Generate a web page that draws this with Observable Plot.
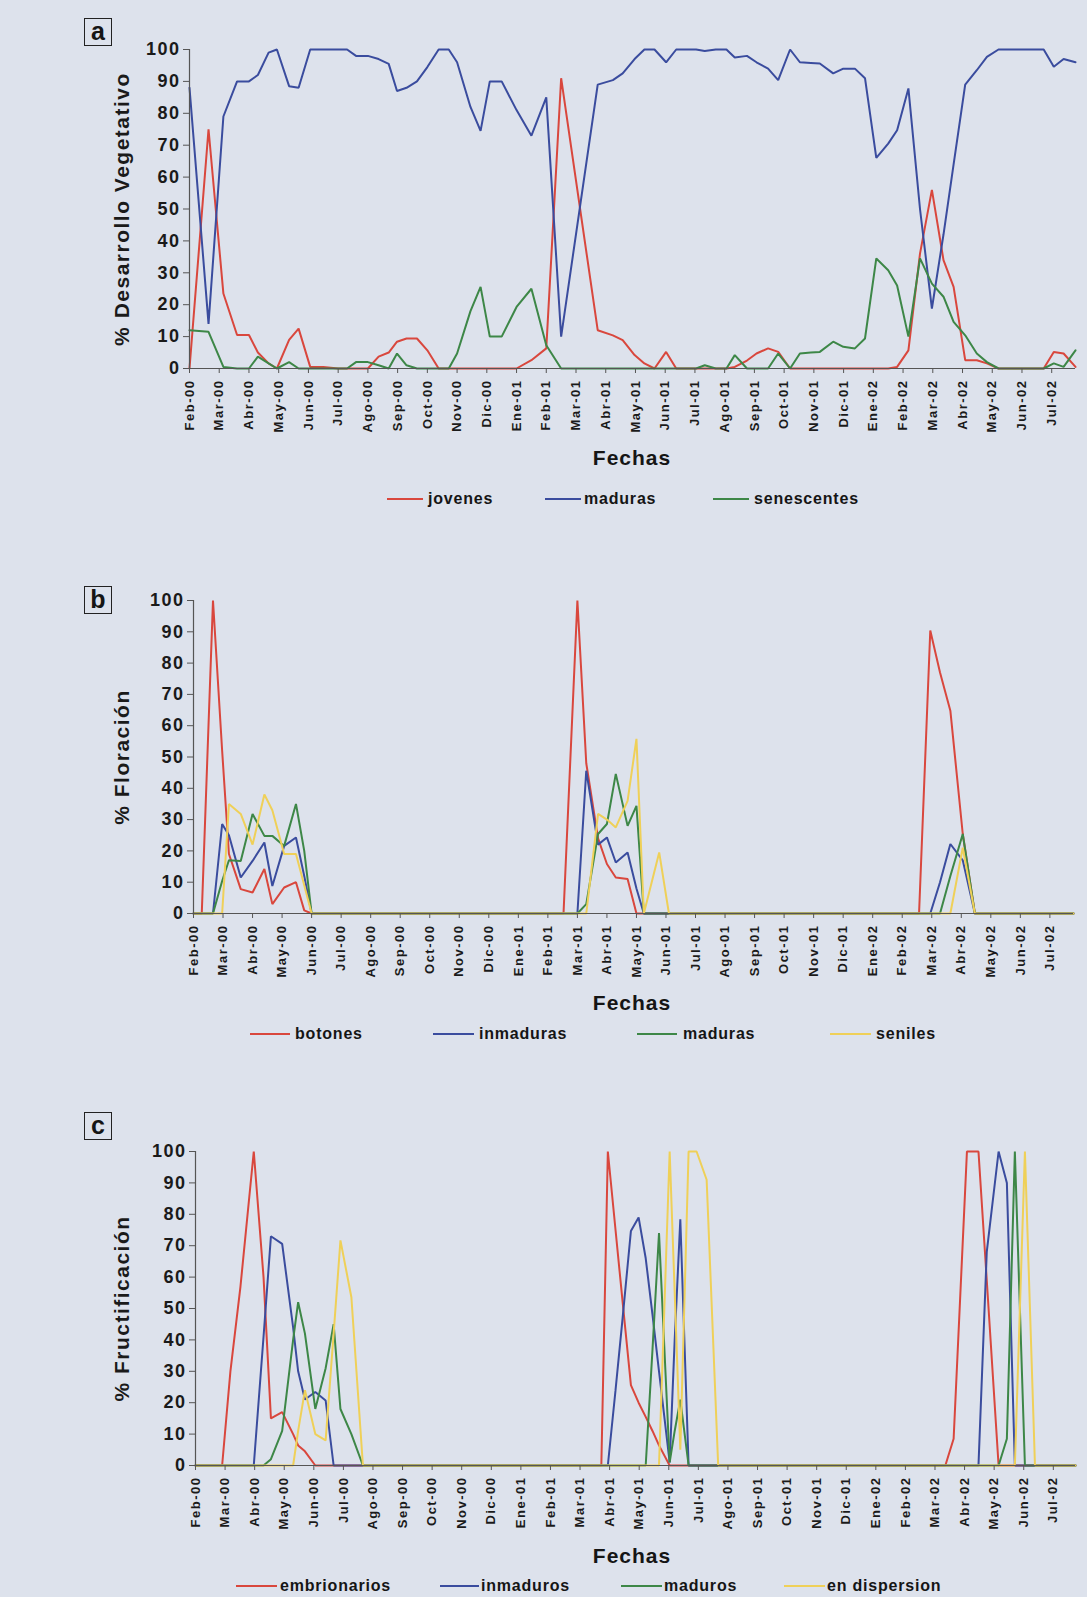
<!DOCTYPE html>
<html>
<head>
<meta charset="utf-8">
<script src="https://cdn.jsdelivr.net/npm/d3@7"></script>
<script src="https://cdn.jsdelivr.net/npm/@observablehq/plot@0.6"></script>
<style>
  html, body { margin: 0; padding: 0; background: #dde2ec; }
  #page { position: relative; width: 1087px; height: 1597px; background: #dde2ec; overflow: hidden;
          font-family: "Liberation Sans", Arial, sans-serif; font-weight: bold; color: #151515; }
  .panel { position: absolute; left: 0; }
  .box { position: absolute; left: 84px; width: 26px; height: 26px; border: 1.5px solid #222;
         font-size: 25px; line-height: 24px; text-align: center; }
  .xtitle { position: absolute; font-size: 21px; letter-spacing: 1px; transform: translate(-50%, -50%); }
  .leg { position: absolute; font-size: 16px; letter-spacing: 0.8px; transform: translateY(-50%); white-space: nowrap; }
  .legline { position: absolute; height: 2px; }
</style>
</head>
<body>
<div id="page"></div>
<script>
// ---------- data ----------
const meses = ["Feb-00","Mar-00","Abr-00","May-00","Jun-00","Jul-00","Ago-00","Sep-00","Oct-00","Nov-00","Dic-00",
  "Ene-01","Feb-01","Mar-01","Abr-01","May-01","Jun-01","Jul-01","Ago-01","Sep-01","Oct-01","Nov-01","Dic-01",
  "Ene-02","Feb-02","Mar-02","Abr-02","May-02","Jun-02","Jul-02"];

// panel a: sampling dates (months after Feb-00)
const fechasA = [0,0.64,1.14,1.6,2.0, 2.3,2.66,2.94,3.35,3.67, 4.06,4.5,5.0,5.3,5.6, 6.0,6.36,6.7,6.98,7.3,
  7.65,8.0,8.38,8.72,9.0, 9.45,9.79,10.1,10.5,11.0, 11.5,12.0,12.5,13.73,14.24, 14.57,14.97,15.3,15.64,16.03,
  16.37,16.7,17.04,17.33,17.7, 18.06,18.34,18.75,19.07,19.46, 19.8,20.2,20.53,20.9,21.2, 21.65,21.99,22.38,22.72,23.1,
  23.5,23.8,24.18,24.57,24.97, 25.36,25.7,26.09,26.48,26.82, 27.21,27.6,28.0,28.4,28.73, 29.07,29.4,29.8];
const jovenes = [0,75,23.5,10.5,10.5, 5,1.6,0,9,12.5, 0.5,0.5,0,0,0, 0,3.7,5,8.4,9.4,
  9.4,5.7,0,0,0, 0,0,0,0,0, 2.6,6.3,91,12,10.4, 8.9,4.2,1.6,0,5.2,
  0,0,0,0,0, 0,0.5,2.5,4.7,6.3, 5.2,0,0,0,0, 0,0,0,0,0,
  0,0.5,5.7,36,56, 34,25.6,2.6,2.6,1.6, 0,0,0,0,0, 5.2,4.7,0.5];
const madurasA = [88,14,79,90,90, 92,99,100,88.5,88, 100,100,100,100,98, 98,97,95.5,87,88,
  90,94.5,100,100,96, 82,74.5,90,90,81, 73,85,10,89,90.4, 92.5,97,100,100,96,
  100,100,100,99.5,100, 100,97.5,98,96,94, 90.4,100,96,95.8,95.6, 92.5,94,94,91,66,
  70.5,74.7,87.8,50,18.8, 42,64,89,93.5,97.7, 100,100,100,100,100, 94.6,97,96];
const senescentes = [12,11.5,0.5,0,0, 3.7,1.6,0,2,0, 0,0,0,0,2, 2,1,0,4.7,1,
  0,0,0,0,4.7, 18,25.6,10,10,19.3, 25,7.3,0,0,0, 0,0,0,0,0,
  0,0,0,1,0, 0,4.2,0,0,0, 4.7,0,4.7,5,5.2, 8.4,6.8,6.3,9.4,34.5,
  30.8,26,10,34.5,26.6, 22.5,14.6,10.4,4.7,2, 0,0,0,0,0, 1.6,0.5,5.7];

// panel b
const fechasB = [0,0.28,0.66,0.97,1.2, 1.6,2.0,2.4,2.67,3.07, 3.47,3.75,4.0,8.0,12.53, 13.0,13.3,13.7,14.0,14.3,
  14.7,15.0,15.25,15.77,16.1, 20.0,24.57,24.95,25.28,25.63, 26.05,26.46,29.8];
const botones = [0,0,100,52,19, 7.8,6.7,14.2,3,8.3, 10,1,0,0,0, 100,48,24,15.8,11.5, 11,0,0,0,0, 0,0,90.4,77,64.8, 25.4,0,0];
const inmaduras = [0,0,0,28.6,25, 11.5,16.8,22.7,8.8,21.6, 24.3,12,0,0,0, 0,45.6,22,24.3,16.3, 19.5,8,0,0,0, 0,0,0,10,22.2, 17,0,0];
const madurasB = [0,0,0,10.4,17, 16.8,31.8,24.8,24.8,21.6, 35,20,0,0,0, 0,3,25.4,28.6,44.6, 28,34.4,0,0,0, 0,0,0,0,12, 25.4,0,0];
const seniles = [0,0,0,0,35, 31.8,22,38,33,19, 19,9,0,0,0, 0,0,31.8,30,27.5, 36,55.8,0,19.5,0, 0,0,0,0,0, 21,0,0];

// panel c
const fechasC = [0,0.9,1.18,1.52,1.97, 2.3,2.55,2.93,3.3,3.47, 3.7,4.05,4.4,4.67,4.9, 5.27,5.66,9.0,13.72,13.94,
  14.2,14.44,14.72,14.98,15.22, 15.45,15.67,16.03,16.2,16.39, 16.67,16.94,17.28,17.67,21.0, 25.35,25.63,26.08,26.47,26.75,
  27.15,27.43,27.7,28.04,28.38, 29.75];
const embrionarios = [0,0,30,57,100, 60,15,17,10,6.4, 4.5,0,0,0,0, 0,0,0,0,100,
  75,52,25.6,20,15.5, 11,6.4,0,0,0, 0,0,0,0,0, 0,8.5,100,100,59, 0,0,0,0,0, 0];
const inmaduros = [0,0,0,0,0, 41,73,70.6,44,30, 21,23.4,20.7,0,0, 0,0,0,0,0,
  24,47,74.7,79,66, 48,30,1,40,78.4, 0,0,0,0,0, 0,0,0,0,68, 100,90,0,0,0, 0];
const maduros = [0,0,0,0,0, 0,2,11,40,52, 42,18,31,45,18, 10,0,0,0,0,
  0,0,0,0,0, 37,74,1,11,21, 0,0,0,0,0, 0,0,0,0,0, 0,8.5,100,0,0, 0];
const enDispersion = [0,0,0,0,0, 0,0,0,0,11, 24,10,8,42,71.7, 53.6,0,0,0,0,
  0,0,0,0,0, 0,0,100,55,5, 100,100,91,0,0, 0,0,0,0,0, 0,0,0,100,0, 0];

const colores = ["#d9473d", "#3a4c9e", "#3d8747", "#efd058"];
const FONT = '"Liberation Sans", Arial, Helvetica, sans-serif';

// ---------- drawing ----------
const page = document.getElementById("page");

function panel({fechas, series, nombres, etiquetaY, top, height, mt, mb, ml, mr, xmax}) {
  const rows = series.flatMap((vals, k) => fechas.map((m, i) => ({m, v: vals[i], serie: nombres[k]})));
  const chart = Plot.plot({
    width: 1087, height,
    marginTop: mt, marginBottom: mb, marginLeft: ml, marginRight: mr,
    style: {background: "transparent", fontFamily: FONT, fontWeight: "bold", fontSize: "18px", color: "#1a1a1a", letterSpacing: "1.5px", overflow: "visible"},
    x: {domain: [0, xmax]},
    y: {domain: [0, 100]},
    color: {domain: nombres, range: colores},
    marks: [
      Plot.line(rows, {x: "m", y: "v", z: "serie", stroke: "serie", strokeWidth: 2, strokeLinejoin: "miter"}),
      Plot.ruleX([0], {stroke: "#555", strokeWidth: 1.2}),
      Plot.ruleY([0], {stroke: "#555", strokeWidth: 1.2}),
      Plot.axisY({ticks: d3.range(0, 101, 10), tickSize: 6, tickPadding: 3, label: null, stroke: "#555"}),
      Plot.axisX({ticks: d3.range(30), tickFormat: i => meses[i], tickRotate: -90, tickSize: 5, tickPadding: 6,
                  fontSize: 13, label: null, stroke: "#555"}),
      Plot.text([etiquetaY], {frameAnchor: "left", rotate: -90, textAnchor: "middle", dx: 122 - ml, fontSize: 21})
    ]
  });
  chart.classList.add("panel");
  chart.style.top = top + "px";
  page.appendChild(chart);
}

function html(tag, cls, text, css) {
  const el = document.createElement(tag);
  el.className = cls;
  if (text != null) el.textContent = text;
  Object.assign(el.style, css);
  page.appendChild(el);
  return el;
}

function leyenda(items, y) {
  items.forEach(([nombre, color, x0, x1, xt]) => {
    html("div", "legline", null, {left: x0 + "px", width: (x1 - x0) + "px", top: (y - 1) + "px", background: color});
    html("div", "leg", nombre, {left: xt + "px", top: y + "px"});
  });
}

// panel a
panel({fechas: fechasA, series: [jovenes, madurasA, senescentes], nombres: ["jovenes", "maduras", "senescentes"],
  etiquetaY: "% Desarrollo Vegetativo", top: 0, height: 440, mt: 49, mb: 72, ml: 189, mr: 12, xmax: 29.8});
html("div", "box", "a", {top: "18px"});
html("div", "xtitle", "Fechas", {left: "632px", top: "458px"});
leyenda([["jovenes", colores[0], 387, 423, 428], ["maduras", colores[1], 545, 581, 584], ["senescentes", colores[2], 713, 749, 754]], 499);

// panel b
panel({fechas: fechasB, series: [botones, inmaduras, madurasB, seniles], nombres: ["botones", "inmaduras", "maduras", "seniles"],
  etiquetaY: "% Floración", top: 550, height: 440, mt: 50, mb: 77, ml: 193, mr: 14, xmax: 29.8});
html("div", "box", "b", {top: "586px"});
html("div", "xtitle", "Fechas", {left: "632px", top: "1003px"});
leyenda([["botones", colores[0], 250, 290, 295], ["inmaduras", colores[1], 433, 474, 479],
         ["maduras", colores[2], 637, 677, 683], ["seniles", colores[3], 830, 871, 876]], 1034);

// panel c
panel({fechas: fechasC, series: [embrionarios, inmaduros, maduros, enDispersion], nombres: ["embrionarios", "inmaduros", "maduros", "en dispersion"],
  etiquetaY: "% Fructificación", top: 1100, height: 440, mt: 51, mb: 75, ml: 195, mr: 12, xmax: 29.75});
html("div", "box", "c", {top: "1112px"});
html("div", "xtitle", "Fechas", {left: "632px", top: "1556px"});
leyenda([["embrionarios", colores[0], 236, 277, 280], ["inmaduros", colores[1], 440, 479, 481],
         ["maduros", colores[2], 621, 662, 664], ["en dispersion", colores[3], 784, 825, 827]], 1586);
</script>
</body>
</html>
